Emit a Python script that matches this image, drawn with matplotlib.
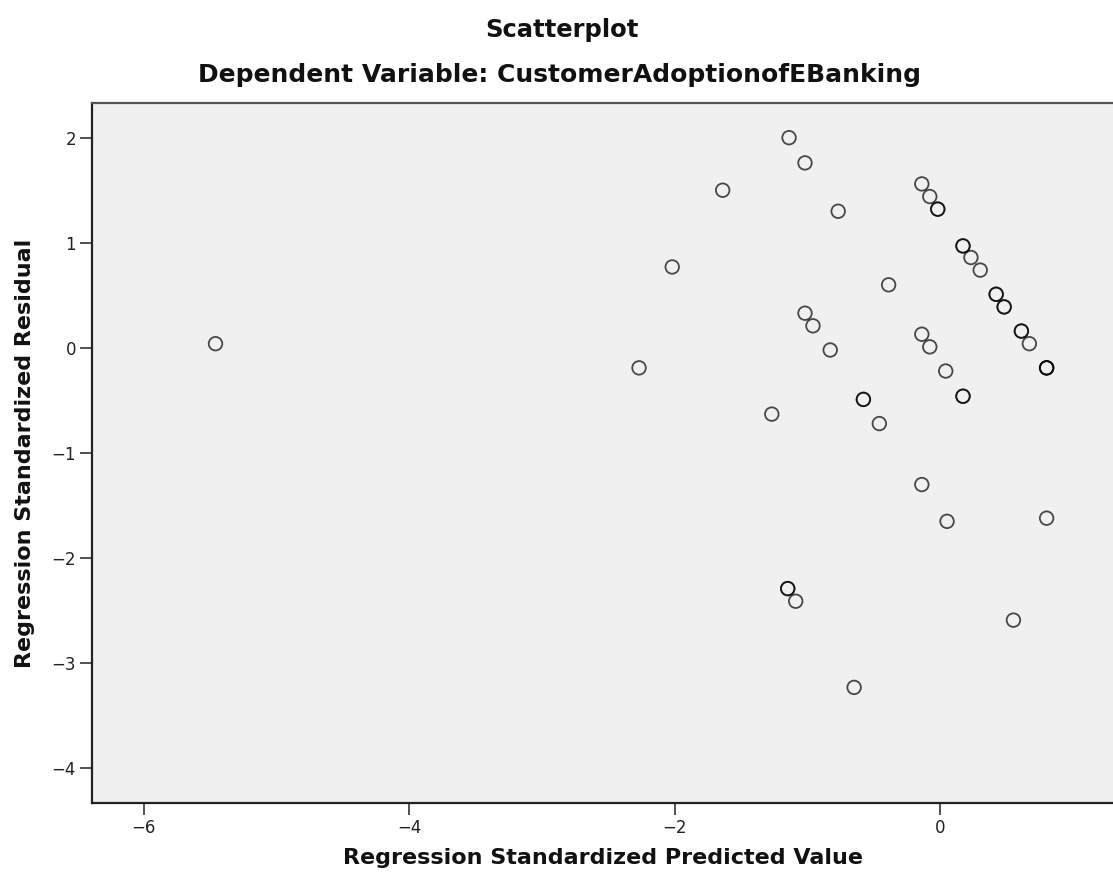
import matplotlib
matplotlib.use("Agg")
import matplotlib.pyplot as plt

# regression standardized predicted value / residual pairs
predicted = [-5.46, -2.27, -2.02, -1.64, -1.14, -1.02, -0.77, -0.39,
             -1.02, -0.96, -0.83, -1.27, -0.58, -0.58, -0.46,
             -1.15, -1.15, -1.09, -0.65,
             -0.14, -0.08, -0.02, -0.02,
             0.17, 0.17, 0.23, 0.30, 0.42, 0.42, 0.48, 0.48,
             0.61, 0.61, 0.67, 0.80, 0.80, 0.80,
             -0.14, -0.08, 0.04, 0.17, 0.17,
             -0.14, 0.05, 0.80, 0.55]
residual = [0.04, -0.19, 0.77, 1.50, 2.00, 1.76, 1.30, 0.60,
            0.33, 0.21, -0.02, -0.63, -0.49, -0.49, -0.72,
            -2.29, -2.29, -2.41, -3.23,
            1.56, 1.44, 1.32, 1.32,
            0.97, 0.97, 0.86, 0.74, 0.51, 0.51, 0.39, 0.39,
            0.16, 0.16, 0.04, -0.19, -0.19, -0.19,
            0.13, 0.01, -0.22, -0.46, -0.46,
            -1.30, -1.65, -1.62, -2.59]

xticks = [-6, -4, -2, 0]
yticks = [-4, -3, -2, -1, 0, 1, 2]

plt.rcParams['font.family'] = ['DejaVu Sans']

fig = plt.figure(figsize=(11.13, 8.84), dpi=100)
ax = fig.add_axes([0.0827, 0.0916, 0.9173, 0.7919])
ax.set_facecolor("#f0f0f0")

ax.scatter(predicted, residual, s=95, facecolors="none",
           edgecolors="black", linewidths=1.3, alpha=0.7, zorder=3)

ax.set_xlim(-6.39, 1.30)
ax.set_ylim(-4.33, 2.33)
ax.set_xticks(xticks)
ax.set_yticks(yticks)
ax.set_xticklabels([str(t).replace("-", "\u2212") for t in xticks])
ax.set_yticklabels([str(t).replace("-", "\u2212") for t in yticks])
ax.tick_params(direction="out", length=8.5, width=1.1, labelsize=12,
               color="#222222", labelcolor="#222222", pad=3)

ax.spines['right'].set_visible(False)
ax.spines['top'].set_color("#555555")
for side in ('left', 'bottom', 'top'):
    ax.spines[side].set_linewidth(1.6)
ax.spines['left'].set_color("#222222")
ax.spines['bottom'].set_color("#222222")

ax.set_xlabel("Regression Standardized Predicted Value", fontsize=16,
              fontweight="bold", labelpad=8, color="#111111")
ax.set_ylabel("Regression Standardized Residual", fontsize=16,
              fontweight="bold", labelpad=12, color="#111111")

fig.text(0.505, 0.966, "Scatterplot", ha="center", va="center",
         fontsize=17.5, fontweight="bold", color="#111111")
fig.text(0.503, 0.915, "Dependent Variable: CustomerAdoptionofEBanking",
         ha="center", va="center", fontsize=18, fontweight="bold",
         color="#111111")

fig.savefig("out.png", dpi=100)
